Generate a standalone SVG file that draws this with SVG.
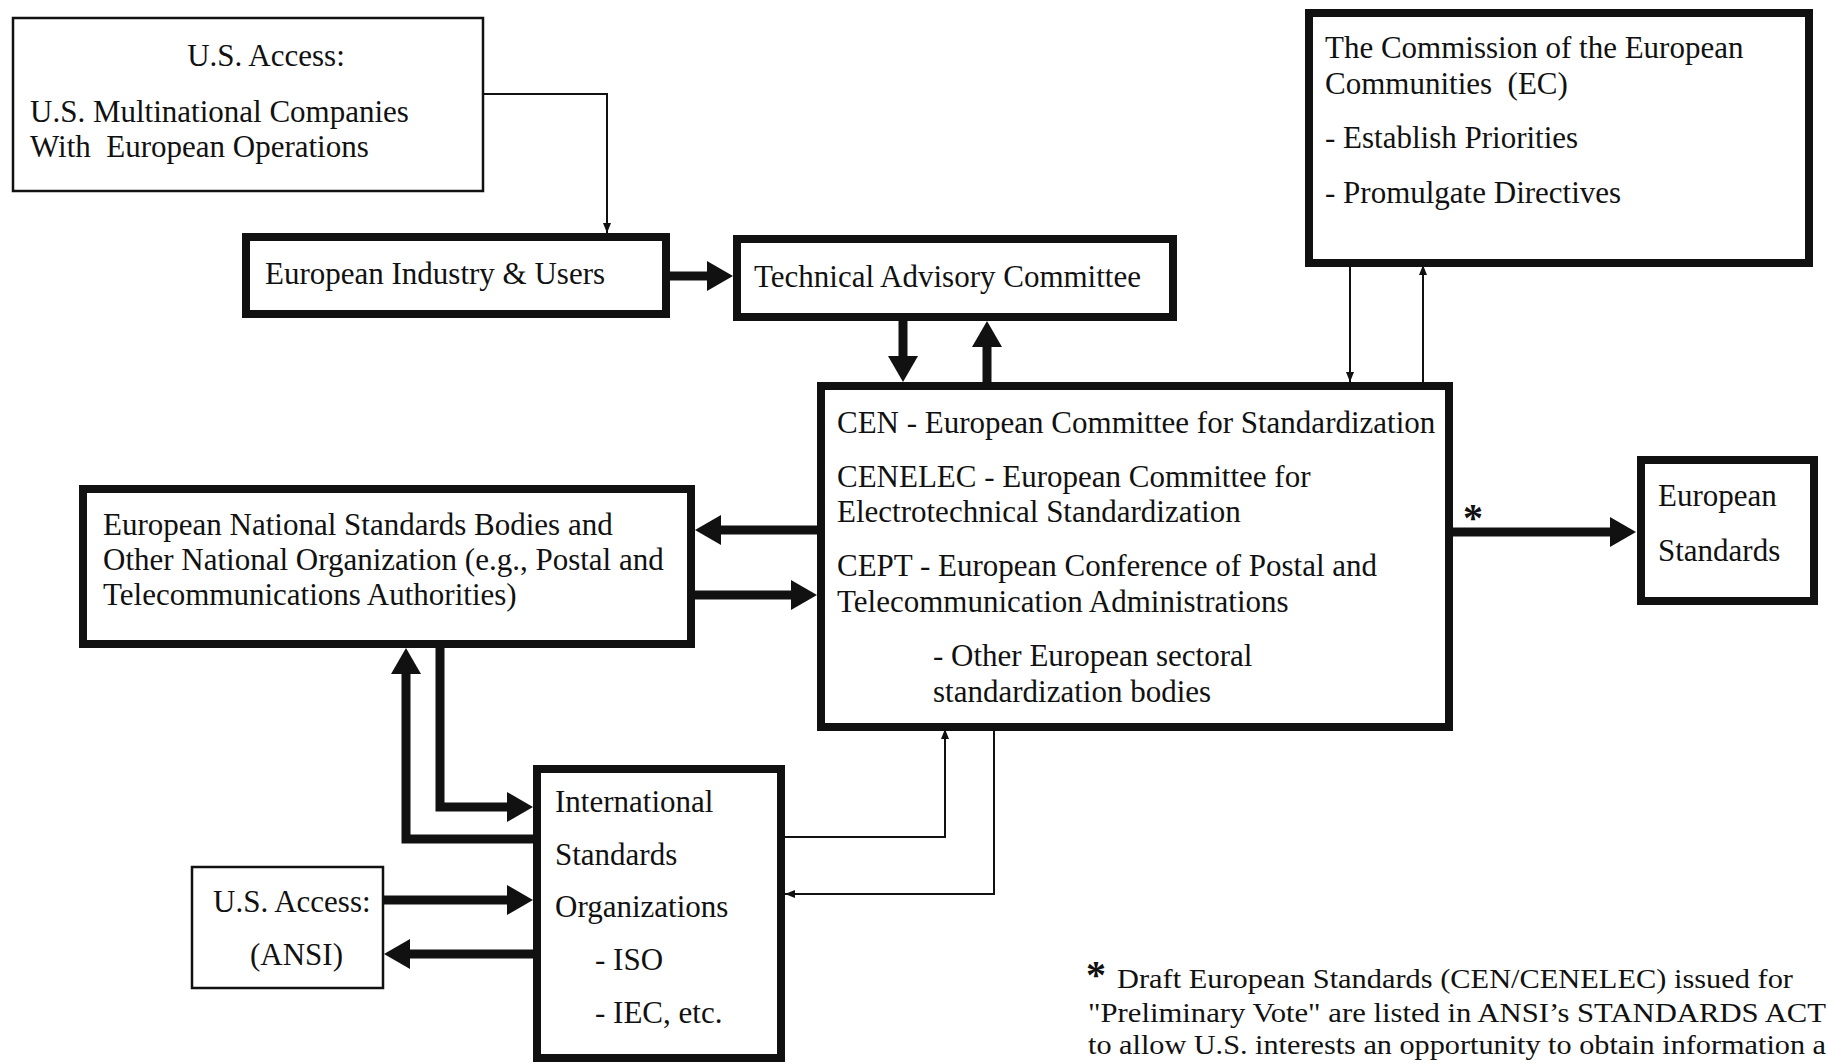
<svg xmlns="http://www.w3.org/2000/svg" width="1828" height="1064" viewBox="0 0 1828 1064">
<style>
text{font-family:"Liberation Serif","Times New Roman",serif;font-size:31px;fill:#111}
.thin{fill:#fff;stroke:#111;stroke-width:2.5}
.thick{fill:#fff;stroke:#111;stroke-width:8}
.cT{fill:none;stroke:#111;stroke-width:9}
.cN{fill:none;stroke:#111;stroke-width:2}
.ast{font-size:40px;font-weight:bold}
.fn{font-size:28px}
</style>
<defs>
<marker id="bh" markerUnits="userSpaceOnUse" markerWidth="26" markerHeight="30" refX="0" refY="15" orient="auto" overflow="visible">
<path d="M0,0 L26,15 L0,30 z" fill="#111"/>
</marker>
<marker id="sh" markerUnits="userSpaceOnUse" markerWidth="10" markerHeight="10" refX="10" refY="4" orient="auto" overflow="visible">
<path d="M0,0 L10,4 L0,8 z" fill="#111"/>
</marker>
</defs>
<rect width="1828" height="1064" fill="#fff"/>

<g id="connectors">
<polyline class="cN" points="484,94 607,94 607,233" marker-end="url(#sh)"/>
<line class="cT" x1="670" y1="276" x2="707" y2="276" marker-end="url(#bh)"/>
<line class="cT" x1="903" y1="321" x2="903" y2="356" marker-end="url(#bh)"/>
<line class="cT" x1="987" y1="382" x2="987" y2="347" marker-end="url(#bh)"/>
<line class="cN" x1="1350" y1="265" x2="1350" y2="382" marker-end="url(#sh)"/>
<line class="cN" x1="1423" y1="382" x2="1423" y2="265" marker-end="url(#sh)"/>
<line class="cT" x1="817" y1="530" x2="721" y2="530" marker-end="url(#bh)"/>
<line class="cT" x1="695" y1="595" x2="791" y2="595" marker-end="url(#bh)"/>
<line class="cT" x1="1451" y1="532" x2="1610" y2="532" marker-end="url(#bh)"/>
<polyline class="cT" points="440,648 440,807 507,807" marker-end="url(#bh)"/>
<polyline class="cT" points="533,839 406,839 406,674" marker-end="url(#bh)"/>
<line class="cT" x1="384" y1="900" x2="507" y2="900" marker-end="url(#bh)"/>
<line class="cT" x1="533" y1="954" x2="410" y2="954" marker-end="url(#bh)"/>
<polyline class="cN" points="785,837 945,837 945,729" marker-end="url(#sh)"/>
<polyline class="cN" points="994,729 994,894 785,894" marker-end="url(#sh)"/>
<text class="ast" x="1463" y="531">*</text>
</g>

<g id="us-access-multinational">
<rect class="thin" x="13" y="18" width="470" height="173"/>
<text x="266" y="66" text-anchor="middle">U.S. Access:</text>
<text x="30" y="122">U.S. Multinational Companies</text>
<text x="30" y="157" xml:space="preserve">With  European Operations</text>
</g>

<g id="european-industry">
<rect class="thick" x="246" y="237" width="420" height="77"/>
<text x="265" y="284">European Industry &amp; Users</text>
</g>

<g id="technical-advisory">
<rect class="thick" x="737" y="239" width="436" height="78"/>
<text x="754" y="287">Technical Advisory Committee</text>
</g>

<g id="commission-ec">
<rect class="thick" x="1309" y="13" width="500" height="250"/>
<text x="1325" y="58">The Commission of the European</text>
<text x="1325" y="94" xml:space="preserve">Communities  (EC)</text>
<text x="1325" y="148">- Establish Priorities</text>
<text x="1325" y="203">- Promulgate Directives</text>
</g>

<g id="cen-cenelec-cept">
<rect class="thick" x="821" y="386" width="628" height="341"/>
<text x="837" y="433">CEN - European Committee for Standardization</text>
<text x="837" y="487">CENELEC - European Committee for</text>
<text x="837" y="522">Electrotechnical Standardization</text>
<text x="837" y="576">CEPT - European Conference of Postal and</text>
<text x="837" y="612">Telecommunication Administrations</text>
<text x="933" y="666">- Other European sectoral</text>
<text x="933" y="702">standardization bodies</text>
</g>

<g id="european-standards">
<rect class="thick" x="1641" y="460" width="173" height="141"/>
<text x="1658" y="506">European</text>
<text x="1658" y="561">Standards</text>
</g>

<g id="national-bodies">
<rect class="thick" x="83" y="489" width="608" height="155"/>
<text x="103" y="535">European National Standards Bodies and</text>
<text x="103" y="570">Other National Organization (e.g., Postal and</text>
<text x="103" y="605">Telecommunications Authorities)</text>
</g>

<g id="international-standards">
<rect class="thick" x="537" y="769" width="244" height="289"/>
<text x="555" y="812">International</text>
<text x="555" y="865">Standards</text>
<text x="555" y="917">Organizations</text>
<text x="595" y="970">- ISO</text>
<text x="595" y="1023">- IEC, etc.</text>
</g>

<g id="us-access-ansi">
<rect class="thin" x="192" y="867" width="191" height="121"/>
<text x="213" y="912">U.S. Access:</text>
<text x="250" y="965">(ANSI)</text>
</g>

<g id="footnote">
<text class="ast" x="1086" y="988" font-size="34">*</text>
<text class="fn" x="1117" y="988" textLength="676" lengthAdjust="spacingAndGlyphs">Draft European Standards (CEN/CENELEC) issued for</text>
<text class="fn" x="1088" y="1022" textLength="738" lengthAdjust="spacingAndGlyphs">"Preliminary Vote" are listed in ANSI’s STANDARDS ACT</text>
<text class="fn" x="1088" y="1054" textLength="738" lengthAdjust="spacingAndGlyphs">to allow U.S. interests an opportunity to obtain information a</text>
</g>
</svg>
